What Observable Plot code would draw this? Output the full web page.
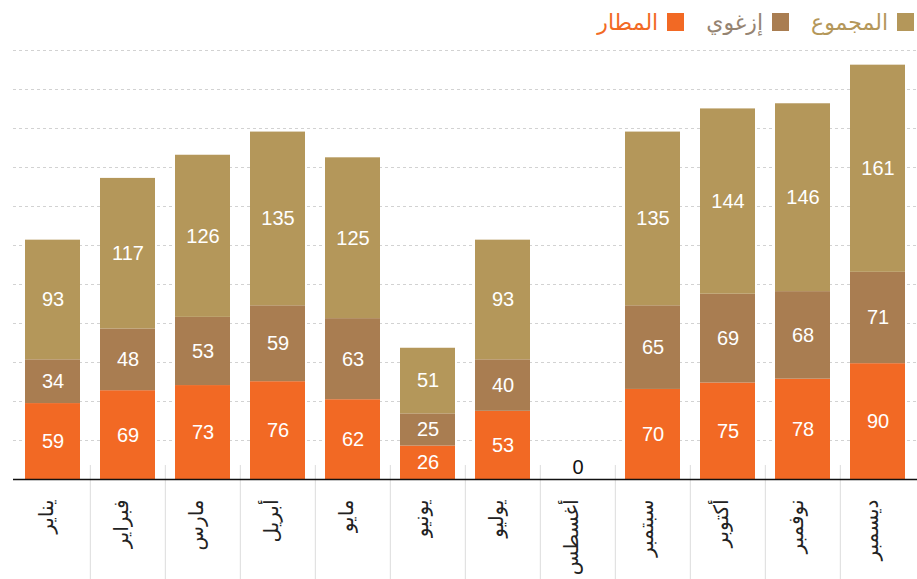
<!DOCTYPE html>
<html>
<head>
<meta charset="utf-8">
<script src="https://cdn.jsdelivr.net/npm/d3@7"></script>
<script src="https://cdn.jsdelivr.net/npm/@observablehq/plot@0.6"></script>
<style>
  html, body { margin: 0; padding: 0; background: #fff; }
  #legend {
    height: 42px; box-sizing: border-box; padding-top: 2px; padding-right: 3px;
    display: flex; direction: rtl; align-items: center;
    font-family: "DejaVu Sans", sans-serif; font-size: 22px;
  }
  .item { display: flex; align-items: center; margin-left: 22px; }
  .sw { width: 17px; height: 18px; margin-left: 9px; }
  svg { display: block; }
</style>
</head>
<body>
<div id="legend"></div>
<div id="chart"></div>
<script>
const months = ["يناير","فبراير","مارس","أبريل","مايو","يونيو","يوليو","أغسطس","سبتمبر","أكتوبر","نوفمبر","ديسمبر"];
const seriesNames = ["المطار","إزغوي","المجموع"];
const seriesColors = ["#f26924","#a97d51","#b4975a"];
const legendTextColors = ["#f26924","#958472","#b4975a"];
const airport = [59,69,73,76,62,26,53,0,70,75,78,90];
const izghwi  = [34,48,53,59,63,25,40,0,65,69,68,71];
const total   = [93,117,126,135,125,51,93,0,135,144,146,161];

const data = [];
[airport, izghwi, total].forEach((vals, si) => {
  months.forEach((m, i) => data.push({month: m, series: seriesNames[si], value: vals[i]}));
});
const sums = months.map((m, i) => ({month: m, sum: airport[i] + izghwi[i] + total[i]}));

// legend
const legend = document.getElementById("legend");
[2, 1, 0].forEach(si => {
  const it = document.createElement("div");
  it.className = "item";
  const sw = document.createElement("div");
  sw.className = "sw"; sw.style.background = seriesColors[si];
  const tx = document.createElement("span");
  tx.textContent = seriesNames[si]; tx.style.color = legendTextColors[si];
  it.appendChild(sw); it.appendChild(tx);
  legend.appendChild(it);
});

const W = 917, H = 537, mL = 13, mR = 0, mT = 8, mB = 100;
const yMax = 333.4;
const gridTicks = d3.range(1, 12).map(i => yMax * i / 11);
const pIn = 0.27, pOut = 0.135;
const step = (W - mL - mR) / (months.length - pIn + 2 * pOut);
const frameH = H - mT - mB;

const chart = Plot.plot({
  width: W, height: H,
  marginLeft: mL, marginRight: mR, marginTop: mT, marginBottom: mB,
  style: {fontFamily: "'Liberation Sans', Arial, Helvetica, sans-serif", overflow: "visible"},
  x: {domain: months, paddingInner: pIn, paddingOuter: pOut, axis: null},
  y: {domain: [0, yMax], axis: null},
  color: {domain: seriesNames, range: seriesColors},
  marks: [
    Plot.ruleY(gridTicks, {stroke: "#d2d2d2", strokeDasharray: "3,3", strokeWidth: 1}),
    Plot.ruleX(months.slice(1), {x: d => d, dx: -step / 2, stroke: "#dcdcdc", strokeWidth: 1,
      insetTop: frameH - 14, insetBottom: -mB}),
    Plot.barY(data, {x: "month", y: "value", fill: "series", z: "series", order: seriesNames}),
    Plot.text(data, Plot.stackY({x: "month", y: "value", z: "series", order: seriesNames,
      text: d => d.value > 0 ? String(d.value) : "", fill: "white", fontSize: 20})),
    Plot.text(sums.filter(d => d.sum === 0), {x: "month", y: 0, text: d => String(d.sum),
      dy: -12, fill: "#111", fontSize: 20}),
    Plot.ruleY([0], {stroke: "#111", strokeWidth: 1.3}),
    Plot.text(months, {x: d => d, frameAnchor: "bottom", dy: 20, rotate: -90, textAnchor: "end",
      text: d => d, fill: "#222", fontSize: 20, fontFamily: "'DejaVu Sans', sans-serif"})
  ]
});
document.getElementById("chart").appendChild(chart);
</script>
</body>
</html>
